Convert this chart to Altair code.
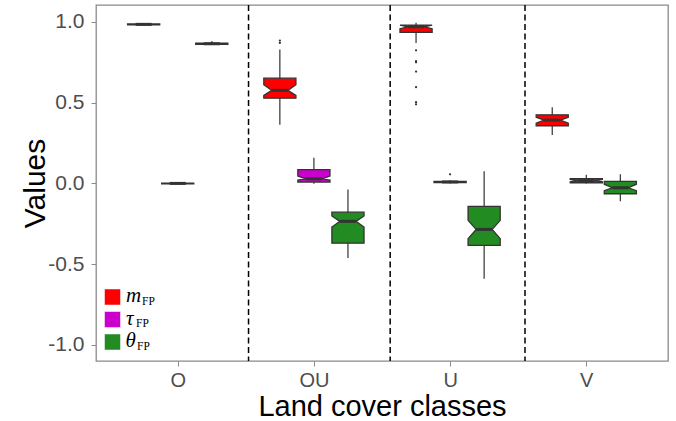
import json
import altair as alt
import pandas as pd

# ---------------- data ----------------
classes = ["O", "OU", "U", "V"]
variables = ["m", "tau", "theta"]
var_symbols = ["m", "τ", "θ"]
fill_colors = ["#FF0000", "#CC00CC", "#228B22"]

# box statistics: for each class, boxes for m, tau, theta
box_class = ["O", "O", "O", "OU", "OU", "OU", "U", "U", "U", "V", "V", "V"]
box_var = ["m", "tau", "theta"] * 4
whisker_lo = [0.978, -0.004, 0.858, 0.363, -0.002, -0.462, 0.870, 0.000, -0.590, 0.300, 0.000, -0.110]
q1 = [0.982, -0.002, 0.862, 0.528, 0.008, -0.370, 0.935, 0.005, -0.384, 0.357, 0.004, -0.064]
notch_lo = [0.984, -0.001, 0.864, 0.545, 0.020, -0.270, 0.958, 0.007, -0.342, 0.373, 0.010, -0.045]
median = [0.985, 0.000, 0.865, 0.576, 0.028, -0.235, 0.970, 0.009, -0.285, 0.392, 0.017, -0.027]
notch_hi = [0.986, 0.001, 0.866, 0.611, 0.045, -0.202, 0.980, 0.011, -0.229, 0.410, 0.024, -0.005]
q3 = [0.988, 0.002, 0.868, 0.652, 0.085, -0.178, 0.980, 0.013, -0.142, 0.425, 0.029, 0.012]
whisker_hi = [0.993, 0.004, 0.870, 0.830, 0.159, -0.037, 0.995, 0.020, 0.076, 0.472, 0.054, 0.056]

outlier_class = ["O", "OU", "OU", "U", "U", "U", "U", "U", "U", "U", "U"]
outlier_var = ["theta", "m", "m", "m", "m", "m", "m", "m", "m", "m", "tau"]
outlier_value = [0.874, 0.870, 0.885, 0.824, 0.757, 0.750, 0.693, 0.596, 0.503, 0.490, 0.056]

divider_x = [1.52, 2.56, 3.55]
y_ticks = [-1.0, -0.5, 0.0, 0.5, 1.0]

# ---------------- derived tables ----------------
DODGE = 0.25
HALF = 0.118
INDENT = HALF * 0.5


def center(cls, var):
    return classes.index(cls) + 1 + (variables.index(var) - 1) * DODGE


box_rows, poly_rows = [], []
for i in range(len(box_class)):
    c = center(box_class[i], box_var[i])
    box_rows.append(dict(box=i, var=box_var[i], xc=c, ml=c - HALF + INDENT, mr=c + HALF - INDENT,
                         wlo=whisker_lo[i], whi=whisker_hi[i], med=median[i]))
    pts = [(q1[i], 0), (notch_lo[i], 0), (median[i], INDENT), (notch_hi[i], 0), (q3[i], 0)]
    for k, (yv, ind) in enumerate(pts):
        poly_rows.append(dict(box=f"b{i:02d}", var=box_var[i], y=yv + k * 1e-6,
                              xl=c - HALF + ind, xr=c + HALF - ind))
boxes = pd.DataFrame(box_rows)
polys = pd.DataFrame(poly_rows)
outliers = pd.DataFrame(dict(
    xc=[center(c, v) for c, v in zip(outlier_class, outlier_var)], y=outlier_value))
dividers = pd.DataFrame(dict(xv=divider_x))

# ---------------- scales / axes ----------------
GREY = "#4D4D4D"
EDGE = "#333333"
x_scale = alt.Scale(domain=[0.4, 4.6], nice=False, zero=False)
y_scale = alt.Scale(domain=[-1.1, 1.105], nice=False, zero=False)
x_axis = alt.Axis(values=[1, 2, 3, 4], labelExpr=f"{json.dumps(classes)}[datum.value - 1]",
                  title="Land cover classes", titleFontSize=29, titleFont="Liberation Sans",
                  titleFontWeight="normal", titleColor="black", titleY=54,
                  titleBaseline="alphabetic", labelFontSize=20, labelColor=GREY,
                  labelFont="Liberation Sans", labelPadding=4, tickSize=5, tickColor="#8a8a8a",
                  domain=False, grid=False)
y_axis = alt.Axis(values=y_ticks,
                  labelExpr="replace(format(datum.value, '.1f'), '\u2212', '-')",
                  title="Values", titleFontSize=30, titleFont="Liberation Sans",
                  titleFontWeight="normal", titleColor="black", titleX=-52,
                  titleBaseline="alphabetic", labelFontSize=21, labelColor=GREY,
                  labelFont="Liberation Sans", labelPadding=7, tickSize=5, tickColor="#8a8a8a",
                  domain=False, grid=False)
color_scale = alt.Scale(domain=variables, range=fill_colors)

div_layer = alt.Chart(dividers).mark_rule(color="black", strokeDash=[6, 3.5], strokeWidth=1.5).encode(
    x=alt.X("xv:Q", scale=x_scale, axis=x_axis))

whisk = alt.Chart(boxes).mark_rule(color=EDGE, strokeWidth=1.2).encode(
    x=alt.X("xc:Q", scale=x_scale, axis=x_axis),
    y=alt.Y("wlo:Q", scale=y_scale, axis=y_axis), y2="whi:Q")

box_area = alt.Chart(polys).mark_area(orient="horizontal", stroke=EDGE, strokeWidth=1.3,
                                      opacity=1, fillOpacity=1).encode(
    y=alt.Y("y:Q", scale=y_scale, axis=y_axis),
    x=alt.X("xl:Q", scale=x_scale, axis=x_axis, stack=None), x2="xr:Q",
    color=alt.Color("var:N", scale=color_scale, legend=None),
    detail="box:N")

med_layer = alt.Chart(boxes).mark_rule(color=EDGE, strokeWidth=3).encode(
    x=alt.X("ml:Q", scale=x_scale, axis=x_axis), x2="mr:Q",
    y=alt.Y("med:Q", scale=y_scale, axis=y_axis))

out_layer = alt.Chart(outliers).mark_circle(color=EDGE, size=5, opacity=1).encode(
    x=alt.X("xc:Q", scale=x_scale, axis=x_axis),
    y=alt.Y("y:Q", scale=y_scale, axis=y_axis))

# ---------------- manual legend (LaTeX-like labels) ----------------
one = pd.DataFrame({"a": [0]})
legend_layers = []
sym_dx = [30, 30, 29.5]
sub_dx = [46, 40, 41]
for i, (sym, col) in enumerate(zip(var_symbols, fill_colors)):
    top = 284 + i * 22.5
    legend_layers.append(alt.Chart(one).mark_rect(color=col, stroke="white", strokeWidth=0.5).encode(
        x=alt.value(8.5), x2=alt.value(24.5), y=alt.value(top), y2=alt.value(top + 16)))
    legend_layers.append(alt.Chart(one).mark_text(
        text=sym, font="Liberation Serif", fontStyle="italic", fontSize=21, align="left",
        baseline="alphabetic", color="black").encode(x=alt.value(sym_dx[i]), y=alt.value(top + 13)))
    legend_layers.append(alt.Chart(one).mark_text(
        text="FP", font="Liberation Serif", fontSize=11.5, align="left",
        baseline="alphabetic", color="black").encode(x=alt.value(sub_dx[i]), y=alt.value(top + 15.5)))

chart = alt.layer(div_layer, whisk, box_area, med_layer, out_layer, *legend_layers).properties(
    width=572, height=356,
    autosize=alt.AutoSizeParams(type="none"),
    padding={"left": 96, "top": 5, "right": 8, "bottom": 60},
    background="white",
).configure_view(stroke="#8a8a8a", strokeWidth=1.3)

chart.save("out.html", embed_options={"renderer": "svg", "actions": False})
